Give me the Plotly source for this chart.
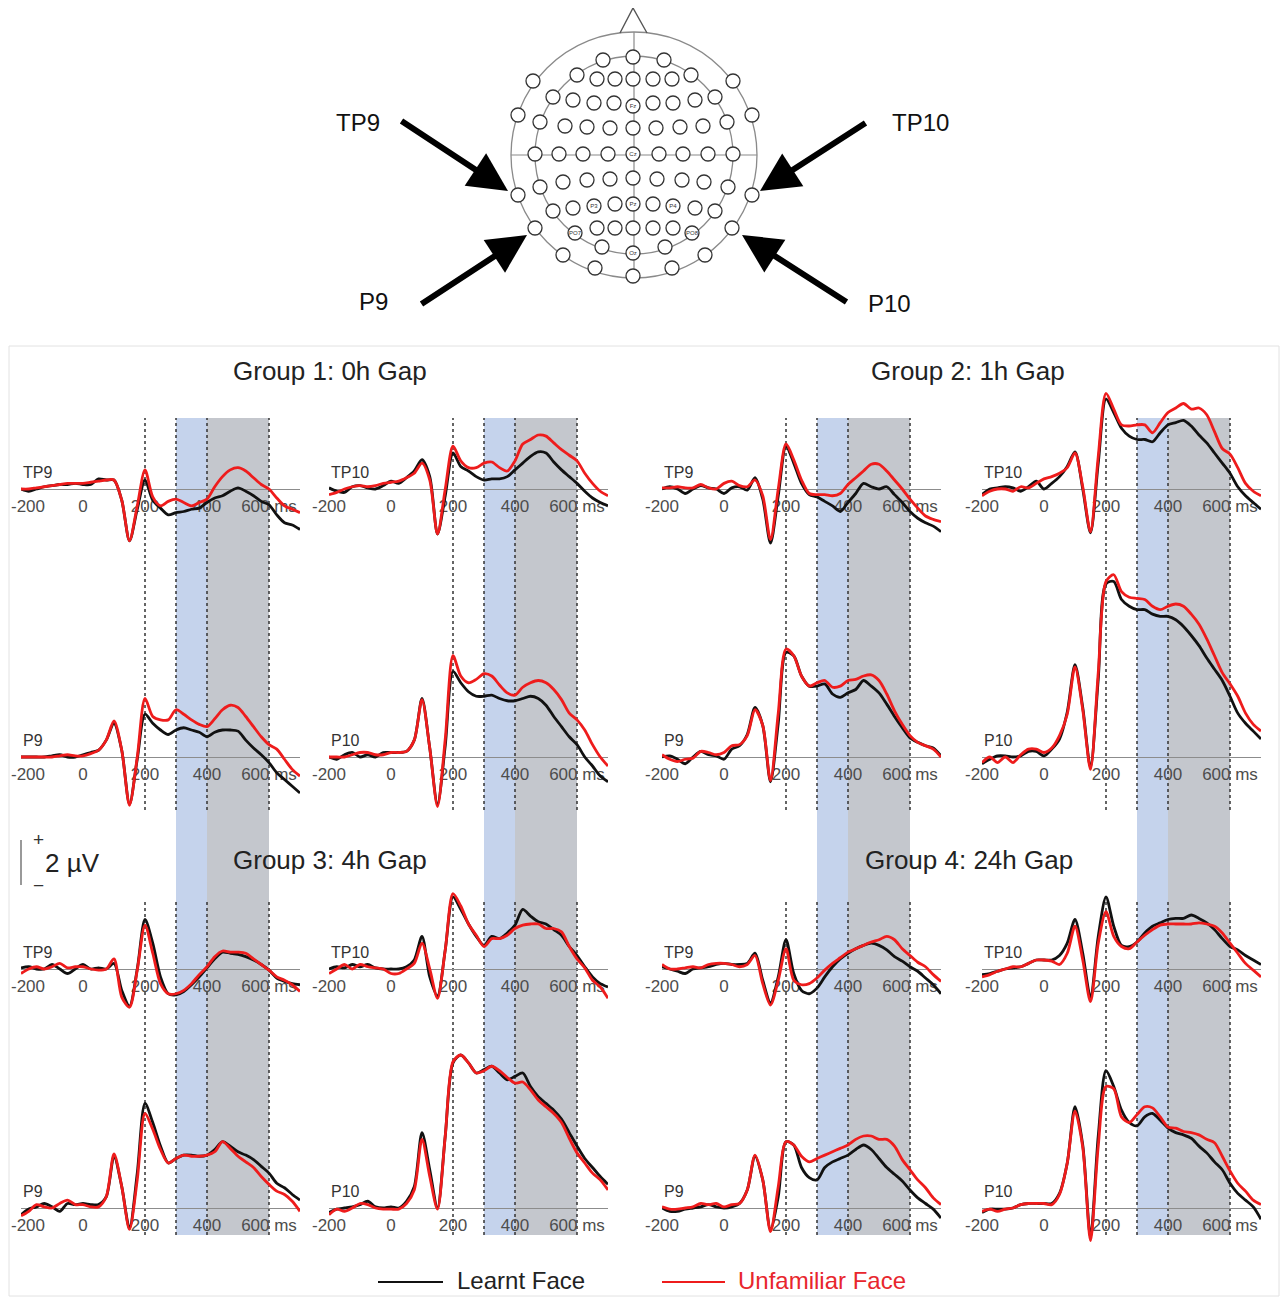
import plotly.graph_objects as go

# ---------------- DATA ----------------
times = [-200, -175, -150, -125, -100, -75, -50, -25, 0, 25, 50, 75, 100, 125, 150, 175, 200, 225, 250,
         275, 300, 325, 350, 375, 400, 425, 450, 475, 500, 525, 550, 575, 600, 625, 650, 675, 700]

# amplitudes in microvolts (positive up)
g1_tp9_learnt = [0.0, -0.1, 0.0, 0.1, 0.15, 0.2, 0.2, 0.25, 0.2, 0.2, 0.45, 0.4, 0.4, -0.5, -2.3, -0.9, 0.4, -0.5, -0.85, -1.15,
                 -1.05, -1.0, -0.9, -0.85, -0.6, -0.4, -0.3, -0.1, 0.05, -0.1, -0.3, -0.55, -0.7, -1.15, -1.5, -1.6, -1.8]
g1_tp9_unfam = [0.0, 0.0, 0.05, 0.1, 0.15, 0.2, 0.25, 0.25, 0.25, 0.3, 0.35, 0.4, 0.4, -0.5, -2.3, -0.75, 0.85, -0.35, -0.75, -0.55,
                -0.45, -0.6, -0.75, -0.6, -0.45, 0.1, 0.55, 0.85, 0.95, 0.8, 0.5, 0.2, 0.0, -0.4, -0.75, -0.9, -1.05]
g1_tp10_learnt = [0.05, -0.1, -0.15, 0.1, 0.15, 0.05, 0.0, 0.15, 0.35, 0.25, 0.5, 0.8, 1.3, 0.55, -2.0, -0.3, 1.6, 1.0, 0.8, 0.55,
                  0.4, 0.45, 0.45, 0.55, 0.85, 1.15, 1.45, 1.65, 1.6, 1.2, 0.85, 0.55, 0.25, -0.1, -0.4, -0.6, -0.75]
g1_tp10_unfam = [-0.25, -0.15, 0.0, 0.1, 0.15, 0.1, 0.15, 0.25, 0.3, 0.35, 0.5, 0.7, 1.15, 0.4, -2.0, 0.0, 1.9, 1.25, 0.95, 0.95,
                 1.15, 1.2, 0.95, 0.8, 1.25, 2.0, 2.2, 2.4, 2.35, 2.05, 1.75, 1.5, 1.25, 0.7, 0.25, -0.1, -0.3]
g1_p9_learnt = [0.0, 0.0, 0.0, 0.0, 0.05, 0.1, 0.0, 0.0, 0.1, 0.2, 0.3, 0.75, 1.5, 0.3, -2.1, -0.1, 1.9, 1.5, 1.2, 1.0,
                1.2, 1.3, 1.2, 1.1, 0.9, 1.1, 1.2, 1.2, 1.15, 0.75, 0.4, 0.1, -0.25, -0.7, -1.0, -1.3, -1.6]
g1_p9_unfam = [0.0, 0.0, 0.0, 0.0, 0.0, 0.05, 0.1, 0.05, 0.05, 0.15, 0.3, 0.75, 1.6, 0.3, -2.15, 0.0, 2.6, 1.8, 1.65, 1.65,
               2.1, 1.9, 1.65, 1.45, 1.35, 1.7, 2.1, 2.3, 2.2, 1.8, 1.35, 0.9, 0.55, 0.35, -0.1, -0.55, -0.85]
g1_p10_learnt = [0.0, -0.1, 0.1, 0.2, 0.0, 0.1, 0.0, 0.2, 0.2, 0.2, 0.25, 0.75, 2.6, 0.4, -2.1, 0.5, 3.8, 3.3, 2.9, 2.7,
                 2.7, 2.75, 2.6, 2.5, 2.5, 2.6, 2.7, 2.6, 2.3, 1.8, 1.35, 0.9, 0.55, 0.0, -0.4, -0.85, -1.1]
g1_p10_unfam = [0.0, 0.0, 0.0, 0.1, 0.2, 0.2, 0.1, 0.1, 0.2, 0.2, 0.25, 0.75, 2.55, 0.4, -2.2, 0.8, 4.5, 3.6, 3.3, 3.45,
                3.7, 3.6, 3.2, 2.85, 2.75, 3.1, 3.3, 3.4, 3.3, 3.0, 2.55, 1.95, 1.65, 1.2, 0.55, 0.0, -0.4]

g2_tp9_learnt = [0.0, 0.1, 0.0, -0.2, 0.0, 0.15, 0.05, 0.0, -0.2, 0.05, 0.1, -0.05, 0.5, -0.45, -2.4, -0.3, 1.9, 1.15, 0.25, -0.25,
                 -0.35, -0.55, -0.75, -1.0, -0.6, -0.2, 0.25, 0.1, 0.0, 0.1, -0.25, -0.6, -1.0, -1.3, -1.5, -1.65, -1.9]
g2_tp9_unfam = [0.05, 0.05, 0.1, 0.05, 0.05, 0.2, 0.05, 0.0, 0.25, 0.35, 0.15, 0.1, 0.4, -0.3, -2.25, 0.0, 2.0, 1.3, 0.4, -0.2,
                -0.25, -0.25, -0.3, -0.2, 0.2, 0.5, 0.8, 1.1, 1.1, 0.8, 0.4, 0.0, -0.45, -0.85, -1.2, -1.35, -1.45]
g2_tp10_learnt = [-0.25, 0.0, 0.05, 0.1, 0.05, -0.1, 0.1, 0.35, 0.0, 0.25, 0.55, 1.0, 1.65, 0.0, -1.95, 1.15, 4.0, 3.4, 2.7, 2.35,
                  2.2, 2.2, 2.1, 2.5, 2.85, 2.95, 3.05, 2.8, 2.4, 2.05, 1.6, 1.15, 0.7, 0.1, -0.3, -0.6, -0.9]
g2_tp10_unfam = [-0.3, -0.1, 0.0, 0.0, -0.1, 0.1, 0.05, 0.25, 0.45, 0.55, 0.7, 0.95, 1.6, 0.1, -1.9, 1.45, 4.25, 3.55, 2.85, 2.8,
                 2.85, 2.85, 2.5, 2.95, 3.4, 3.6, 3.8, 3.55, 3.6, 3.3, 2.55, 1.8, 1.55, 0.95, 0.25, -0.1, -0.3]
g2_p9_learnt = [0.0, 0.05, -0.1, -0.3, 0.0, 0.25, 0.1, 0.05, -0.1, 0.35, 0.5, 1.0, 2.2, 1.4, -1.1, 1.5, 4.65, 4.5, 3.6, 3.15,
                3.15, 3.25, 2.8, 2.65, 2.85, 3.0, 3.4, 3.15, 2.85, 2.35, 1.8, 1.3, 0.85, 0.65, 0.5, 0.4, 0.05]
g2_p9_unfam = [0.1, -0.1, -0.2, -0.1, -0.05, 0.25, 0.2, 0.1, 0.2, 0.5, 0.55, 0.95, 2.1, 1.4, -1.05, 1.95, 4.8, 4.5, 3.6, 3.15,
               3.3, 3.4, 3.1, 3.15, 3.4, 3.45, 3.6, 3.65, 3.4, 2.8, 2.05, 1.45, 0.95, 0.65, 0.5, 0.35, 0.0]
g2_p10_learnt = [-0.3, -0.1, 0.05, 0.05, 0.0, 0.05, 0.25, 0.25, 0.05, 0.35, 0.8, 2.0, 4.1, 2.2, -0.45, 3.45, 7.7, 7.8, 7.0, 6.7,
                 6.55, 6.55, 6.35, 6.25, 6.25, 6.1, 5.8, 5.4, 4.95, 4.4, 3.9, 3.4, 2.7, 1.95, 1.5, 1.15, 0.8]
g2_p10_unfam = [-0.25, 0.0, -0.25, 0.0, -0.25, 0.1, 0.35, 0.35, 0.2, 0.4, 0.95, 1.9, 4.0, 2.1, -0.55, 3.75, 7.8, 8.1, 7.35, 7.1,
                7.05, 7.0, 6.7, 6.55, 6.7, 6.8, 6.7, 6.35, 5.9, 5.25, 4.5, 3.75, 3.25, 2.7, 1.95, 1.45, 1.15]

g3_tp9_learnt = [0.05, 0.1, 0.0, 0.0, 0.2, 0.0, -0.2, 0.0, 0.2, 0.0, 0.05, 0.0, 0.25, -0.95, -1.65, 0.0, 2.2, 1.15, -0.35, -1.1,
                 -1.15, -1.0, -0.7, -0.35, 0.05, 0.45, 0.75, 0.7, 0.65, 0.55, 0.4, 0.2, -0.05, -0.4, -0.55, -0.65, -0.7]
g3_tp9_unfam = [-0.2, 0.0, 0.1, 0.0, 0.1, 0.25, 0.05, 0.1, 0.1, 0.0, -0.05, 0.0, 0.45, -1.25, -1.7, -0.05, 1.95, 0.7, -0.65, -1.1,
                -1.1, -0.95, -0.65, -0.25, 0.1, 0.55, 0.8, 0.75, 0.75, 0.7, 0.45, 0.2, -0.05, -0.35, -0.5, -0.7, -1.0]
g3_tp10_learnt = [0.0, 0.1, 0.05, 0.2, 0.1, 0.2, 0.05, 0.0, 0.0, 0.0, 0.1, 0.4, 1.45, -0.35, -1.2, 0.85, 3.2, 2.65, 2.0, 1.45,
                  1.05, 1.45, 1.35, 1.6, 1.95, 2.65, 2.35, 2.1, 2.0, 1.75, 1.5, 1.0, 0.6, 0.1, -0.35, -0.65, -0.8]
g3_tp10_unfam = [-0.2, 0.0, 0.2, 0.0, 0.2, 0.1, 0.05, 0.0, -0.2, -0.2, 0.0, 0.25, 1.15, 0.0, -1.3, 0.85, 3.35, 2.8, 2.0, 1.5,
                 1.0, 1.35, 1.35, 1.5, 1.8, 1.95, 2.0, 2.0, 1.8, 1.8, 1.65, 1.0, 0.45, 0.05, -0.5, -0.8, -1.3]
g3_p9_learnt = [-0.3, -0.05, 0.05, 0.2, 0.05, -0.15, 0.2, 0.15, 0.2, 0.15, 0.15, 0.5, 2.3, 0.95, -0.9, 1.55, 4.65, 3.8, 2.75, 2.0,
                2.2, 2.35, 2.35, 2.3, 2.35, 2.6, 2.95, 2.75, 2.5, 2.35, 2.15, 1.85, 1.55, 1.1, 0.9, 0.6, 0.35]
g3_p9_unfam = [-0.35, -0.15, 0.15, 0.05, 0.0, 0.2, 0.35, 0.15, 0.15, 0.05, 0.05, 0.5, 2.4, 0.95, -0.95, 1.25, 4.2, 3.5, 2.6, 2.0,
               2.2, 2.35, 2.3, 2.3, 2.35, 2.5, 2.95, 2.65, 2.3, 2.05, 1.8, 1.4, 1.05, 0.75, 0.6, 0.3, -0.15]
g3_p10_learnt = [-0.2, -0.05, 0.0, 0.05, 0.15, 0.3, 0.05, 0.0, 0.05, 0.0, 0.3, 0.95, 3.35, 1.7, 0.0, 3.2, 6.45, 6.8, 6.45, 6.0,
                 6.15, 6.3, 6.0, 5.7, 5.85, 6.0, 5.4, 4.95, 4.65, 4.35, 3.95, 3.35, 2.75, 2.2, 1.8, 1.4, 1.05]
g3_p10_unfam = [-0.3, -0.05, -0.15, 0.0, 0.2, 0.15, 0.0, -0.05, -0.05, -0.05, 0.2, 0.8, 3.05, 1.4, -0.05, 3.2, 6.5, 6.8, 6.45, 6.0,
                6.1, 6.3, 6.1, 5.8, 5.55, 5.6, 5.25, 4.8, 4.5, 4.2, 3.8, 3.1, 2.45, 2.0, 1.55, 1.25, 0.8]

g4_tp9_learnt = [0.1, 0.0, -0.1, -0.2, 0.0, 0.05, 0.1, 0.2, 0.25, 0.2, 0.2, 0.25, 0.7, -0.5, -1.5, -0.35, 1.3, -0.2, -0.95, -1.1,
                 -0.85, -0.35, 0.1, 0.45, 0.7, 0.9, 1.05, 1.15, 1.05, 0.85, 0.55, 0.35, 0.1, -0.1, -0.4, -0.7, -1.1]
g4_tp9_unfam = [0.2, 0.0, 0.0, 0.05, 0.1, 0.05, 0.2, 0.25, 0.25, 0.2, 0.1, 0.2, 0.6, -0.65, -1.6, -0.5, 0.9, -0.5, -0.7, -0.65,
                -0.4, -0.05, 0.25, 0.5, 0.75, 0.9, 1.05, 1.2, 1.3, 1.45, 1.3, 0.9, 0.6, 0.3, 0.1, -0.25, -0.55]
g4_tp10_learnt = [-0.25, -0.2, -0.1, 0.0, 0.05, 0.1, 0.25, 0.4, 0.4, 0.4, 0.6, 1.15, 2.2, 0.7, -1.25, 1.45, 3.2, 1.9, 1.05, 1.0,
                  1.2, 1.6, 1.9, 2.05, 2.2, 2.25, 2.25, 2.4, 2.25, 2.05, 1.75, 1.35, 1.0, 0.85, 0.6, 0.4, 0.2]
g4_tp10_unfam = [-0.35, -0.25, -0.1, 0.0, 0.1, 0.1, 0.25, 0.4, 0.4, 0.35, 0.2, 0.7, 1.9, 0.4, -1.45, 1.15, 2.55, 1.45, 1.0, 0.9,
                 1.2, 1.5, 1.75, 1.95, 2.0, 2.0, 2.0, 2.0, 2.05, 2.0, 1.9, 1.6, 1.15, 0.7, 0.25, -0.05, -0.35]
g4_p9_learnt = [0.0, -0.15, -0.15, -0.05, 0.0, 0.05, 0.15, 0.05, 0.0, 0.05, 0.2, 0.8, 2.3, 1.25, -0.95, 0.5, 2.95, 2.8, 1.8, 1.35,
                1.25, 1.8, 2.05, 2.2, 2.35, 2.6, 2.8, 2.6, 2.2, 1.8, 1.5, 1.2, 0.8, 0.45, 0.2, -0.05, -0.45]
g4_p9_unfam = [0.05, -0.05, -0.05, 0.0, 0.05, 0.2, 0.15, 0.2, 0.05, 0.15, 0.2, 0.8, 2.35, 1.25, -1.05, 0.95, 2.95, 2.8, 2.3, 2.05,
               2.2, 2.35, 2.5, 2.65, 2.8, 3.05, 3.2, 3.2, 3.05, 3.05, 2.75, 2.15, 1.7, 1.25, 0.9, 0.45, 0.15]
g4_p10_learnt = [-0.2, -0.05, -0.05, -0.05, 0.0, 0.15, 0.2, 0.2, 0.2, 0.2, 0.65, 2.0, 4.5, 2.8, -1.3, 3.2, 6.1, 5.4, 4.35, 3.8,
                 3.65, 4.05, 4.2, 3.9, 3.55, 3.35, 3.25, 3.1, 2.75, 2.45, 2.05, 1.7, 1.1, 0.65, 0.35, 0.05, -0.5]
g4_p10_unfam = [-0.15, -0.05, -0.15, -0.05, 0.0, 0.15, 0.2, 0.2, 0.2, 0.15, 0.6, 2.0, 4.3, 2.7, -1.45, 2.75, 5.4, 5.3, 4.05, 3.8,
                4.15, 4.5, 4.45, 4.05, 3.6, 3.55, 3.4, 3.35, 3.25, 3.05, 2.9, 2.3, 1.65, 1.1, 0.75, 0.35, 0.15]

group_titles = ["Group 1: 0h Gap", "Group 2: 1h Gap", "Group 3: 4h Gap", "Group 4: 24h Gap"]
channels = ["TP9", "TP10", "P9", "P10"]
series_names = ["Learnt Face", "Unfamiliar Face"]
tick_vals = [-200, 0, 200, 400, 600]
tick_text = ["-200", "0", "200", "400", "600 ms"]
window_early = [300, 400]
window_late = [400, 600]
marker_times = [200, 300, 400, 600]

learnt = [
    [g1_tp9_learnt, g1_tp10_learnt, g1_p9_learnt, g1_p10_learnt],
    [g2_tp9_learnt, g2_tp10_learnt, g2_p9_learnt, g2_p10_learnt],
    [g3_tp9_learnt, g3_tp10_learnt, g3_p9_learnt, g3_p10_learnt],
    [g4_tp9_learnt, g4_tp10_learnt, g4_p9_learnt, g4_p10_learnt],
]
unfam = [
    [g1_tp9_unfam, g1_tp10_unfam, g1_p9_unfam, g1_p10_unfam],
    [g2_tp9_unfam, g2_tp10_unfam, g2_p9_unfam, g2_p10_unfam],
    [g3_tp9_unfam, g3_tp10_unfam, g3_p9_unfam, g3_p10_unfam],
    [g4_tp9_unfam, g4_tp10_unfam, g4_p9_unfam, g4_p10_unfam],
]

# head map electrodes (pixel positions in the montage drawing)
elec_x = [633, 603, 664,
          533, 577, 597, 615, 633, 653, 672, 691, 733,
          553, 573, 594, 614, 633, 653, 673, 695, 715,
          518, 540, 565, 587, 610, 633, 656, 680, 703, 727, 752,
          535, 559, 583, 608, 633, 659, 683, 708, 733,
          518, 540, 563, 587, 610, 633, 657, 682, 704, 728, 752,
          553, 573, 594, 615, 633, 653, 673, 695, 715,
          535, 575, 597, 615, 633, 653, 673, 692, 732,
          563, 602, 633, 665, 705,
          595, 633, 672]
elec_y = [57, 60, 60,
          81, 75, 79, 79, 79, 79, 79, 75, 81,
          97, 100, 103, 103, 106, 103, 103, 100, 97,
          115, 122, 126, 127, 128, 128, 128, 127, 126, 122, 115,
          154, 154, 154, 154, 154, 154, 154, 154, 154,
          195, 187, 182, 180, 179, 178, 179, 180, 182, 187, 195,
          211, 208, 206, 204, 204, 204, 206, 208, 211,
          228, 233, 228, 228, 228, 228, 228, 233, 228,
          255, 247, 253, 247, 255,
          268, 276, 268]
elec_labels = ["Fz", "Cz", "P3", "Pz", "P4", "PO7", "PO8", "Oz"]
elec_label_x = [633, 633, 594, 633, 673, 575, 692, 633]
elec_label_y = [106, 154, 206, 204, 206, 233, 233, 253]

# ---------------- LAYOUT CONSTANTS ----------------
PAGE_W, PAGE_H = 1288, 1305
OFF = 8                      # default body margin of the html page
W, H = PAGE_W - 2 * OFF, PAGE_H - 2 * OFF
PX_PER_UV = 22.5
PX_PER_MS = 0.31
COL_ZERO = [83, 391, 724, 1044]
ROW_BASE = [489, 757, 969, 1208]
ABOVE, BELOW = 235, 75
FONT = "Liberation Sans, Arial, Helvetica, sans-serif"
BLACK = "#111111"
RED = "#ee1c1c"
TICK_FONT = dict(size=17, color="#4d4d4d", family=FONT)


def px_x(p):
    return (p - OFF) / W


def px_y(p):
    return 1 - (p - OFF) / H


group_pos = [(0, 0), (2, 0), (0, 2), (2, 2)]
chan_pos = [(0, 0), (1, 0), (0, 1), (1, 1)]

fig = go.Figure()
layout_axes = {}
annotations = []
shapes = []
col_axis = {}

k = 0
for gi in range(4):
    for ci in range(4):
        k += 1
        col = group_pos[gi][0] + chan_pos[ci][0]
        row = group_pos[gi][1] + chan_pos[ci][1]
        x0 = COL_ZERO[col]
        base = ROW_BASE[row]
        if row == 0:
            col_axis[col] = k
        # the left-most column has no room for a centred first label: it is placed inside the page edge
        if col == 0:
            tv, tt = tick_vals[1:], tick_text[1:]
            annotations.append(dict(x=-200, y=0, xref=f"x{k}", yref=f"y{k}", text=tick_text[0], showarrow=False,
                                    xanchor="left", yanchor="middle", xshift=-12, yshift=-17, font=TICK_FONT))
        else:
            tv, tt = tick_vals, tick_text
        xa = dict(domain=[px_x(x0 - 200 * PX_PER_MS), px_x(x0 + 700 * PX_PER_MS)], range=[-200, 700],
                  anchor="free", position=px_y(base), showline=True, linecolor="#8c8c8c", linewidth=1,
                  showgrid=False, zeroline=False, tickmode="array", tickvals=tv, ticktext=tt,
                  ticks="outside", ticklen=2, tickcolor="rgba(0,0,0,0)", automargin=False,
                  tickfont=TICK_FONT, layer="below traces", fixedrange=True)
        ya = dict(domain=[px_y(base + BELOW), px_y(base - ABOVE)], automargin=False,
                  range=[-BELOW / PX_PER_UV, ABOVE / PX_PER_UV], visible=False, anchor=f"x{k}", fixedrange=True)
        layout_axes[f"xaxis{k}"] = xa
        layout_axes[f"yaxis{k}"] = ya
        for vals, color, name in ((learnt[gi][ci], BLACK, series_names[0]), (unfam[gi][ci], RED, series_names[1])):
            fig.add_trace(go.Scatter(x=times, y=vals, xaxis=f"x{k}", yaxis=f"y{k}", mode="lines", name=name,
                                     line=dict(color=color, width=2.8, shape="spline", smoothing=0.8),
                                     showlegend=False, hoverinfo="skip"))
        annotations.append(dict(x=-200, y=0, xref=f"x{k}", yref=f"y{k}", text=channels[ci], showarrow=False,
                                xanchor="left", yanchor="middle", yshift=17,
                                font=dict(size=16, color="#333333", family=FONT)))

# analysis windows and markers per column
for col in range(4):
    xr = f"x{col_axis[col]}"
    shapes.append(dict(type="rect", xref=xr, yref="paper", x0=window_early[0], x1=window_early[1],
                       y0=px_y(1235), y1=px_y(418), fillcolor="#c5d3ec", line=dict(width=0), layer="below"))
    shapes.append(dict(type="rect", xref=xr, yref="paper", x0=window_late[0], x1=window_late[1],
                       y0=px_y(1235), y1=px_y(418), fillcolor="#c4c7cd", line=dict(width=0), layer="below"))
    for (ytop, ybot) in ((418, 810), (900, 1235)):
        for t in marker_times:
            shapes.append(dict(type="line", xref=xr, yref="paper", x0=t, x1=t, y0=px_y(ybot), y1=px_y(ytop),
                               line=dict(color="#333333", width=1.5, dash="dot"), layer="below"))

# overlay axis in page-pixel space for decorations
layout_axes["xaxis17"] = dict(domain=[0, 1], range=[OFF, OFF + W], visible=False, fixedrange=True,
                              anchor="y17", automargin=False)
layout_axes["yaxis17"] = dict(domain=[0, 1], range=[OFF + H, OFF], visible=False, fixedrange=True,
                              anchor="x17", automargin=False)

# head outline
HX, HY = 634, 155
for r in (123, 99):
    shapes.append(dict(type="circle", xref="x17", yref="y17", x0=HX - r, x1=HX + r, y0=HY - r, y1=HY + r,
                       line=dict(color="#8a8a8a", width=1.3), layer="below"))
shapes.append(dict(type="line", xref="x17", yref="y17", x0=HX - 123, x1=HX + 123, y0=HY, y1=HY,
                   line=dict(color="#8a8a8a", width=1.2), layer="below"))
shapes.append(dict(type="line", xref="x17", yref="y17", x0=HX, x1=HX, y0=HY - 123, y1=HY + 123,
                   line=dict(color="#8a8a8a", width=1.2), layer="below"))
shapes.append(dict(type="path", xref="x17", yref="y17", path="M 620 33 L 633 8 L 647 33",
                   line=dict(color="#555555", width=1.4), layer="below"))

fig.add_trace(go.Scatter(x=elec_x, y=elec_y, xaxis="x17", yaxis="y17", mode="markers",
                         marker=dict(size=14, color="white", line=dict(color="#333333", width=1.3)),
                         showlegend=False, hoverinfo="skip"))
fig.add_trace(go.Scatter(x=elec_label_x, y=elec_label_y, xaxis="x17", yaxis="y17", mode="text",
                         text=elec_labels, textfont=dict(size=6, color="#333333", family=FONT),
                         showlegend=False, hoverinfo="skip"))

# arrows to the four electrodes
arrows = [((400, 120), (508, 191)), ((420, 305), (527, 235)), ((867, 122), (760, 191)), ((848, 303), (742, 235))]
for (tx, ty), (hx, hy) in arrows:
    annotations.append(dict(x=hx, y=hy, xref="x17", yref="y17", ax=tx, ay=ty, axref="x17", ayref="y17",
                            text="", showarrow=True, arrowhead=2, arrowsize=1.3, arrowwidth=6, arrowcolor="#000000"))
arrow_labels = [("TP9", 358, 122), ("P9", 373, 301), ("TP10", 920, 122), ("P10", 889, 303)]
for txt, lx, ly in arrow_labels:
    annotations.append(dict(x=lx, y=ly, xref="x17", yref="y17", text=txt, showarrow=False,
                            font=dict(size=24, color="#111111", family=FONT)))

# group titles
title_pos = [(330, 371), (968, 371), (330, 860), (969, 860)]
for t, (tx, ty) in zip(group_titles, title_pos):
    annotations.append(dict(x=tx, y=ty, xref="x17", yref="y17", text=t, showarrow=False,
                            font=dict(size=26, color="#222222", family=FONT)))

# scale bar
shapes.append(dict(type="line", xref="x17", yref="y17", x0=21, x1=21, y0=840, y1=885,
                   line=dict(color="#555555", width=1.2)))
annotations.append(dict(x=38, y=839, xref="x17", yref="y17", text="+", showarrow=False,
                        font=dict(size=19, color="#333333", family=FONT)))
annotations.append(dict(x=38, y=885, xref="x17", yref="y17", text="\u2212", showarrow=False,
                        font=dict(size=19, color="#333333", family=FONT)))
annotations.append(dict(x=43, y=863, xref="x17", yref="y17", text="2 \u00b5V", showarrow=False, xanchor="left",
                        font=dict(size=26, color="#222222", family=FONT)))

# legend
shapes.append(dict(type="line", xref="x17", yref="y17", x0=378, x1=443, y0=1282, y1=1282,
                   line=dict(color=BLACK, width=2)))
shapes.append(dict(type="line", xref="x17", yref="y17", x0=662, x1=725, y0=1282, y1=1282,
                   line=dict(color=RED, width=2)))
annotations.append(dict(x=456, y=1296, xref="x17", yref="y17", text=series_names[0], showarrow=False,
                        xanchor="left", yanchor="bottom", yshift=1, borderpad=0,
                        font=dict(size=24, color="#222222", family=FONT)))
annotations.append(dict(x=737, y=1296, xref="x17", yref="y17", text=series_names[1], showarrow=False,
                        xanchor="left", yanchor="bottom", yshift=1, borderpad=0,
                        font=dict(size=24, color="#e8262d", family=FONT)))

# faint frame around the ERP section
shapes.append(dict(type="rect", xref="x17", yref="y17", x0=9, x1=1279, y0=346, y1=1296,
                   line=dict(color="#e2e2e2", width=1), layer="below"))

fig.update_layout(width=W, height=H, autosize=False, margin=dict(l=0, r=0, t=0, b=0, pad=0),
                  paper_bgcolor="white", plot_bgcolor="rgba(0,0,0,0)", showlegend=False,
                  shapes=shapes, annotations=annotations, font=dict(family=FONT), **layout_axes)

fig.write_html("out.html")
